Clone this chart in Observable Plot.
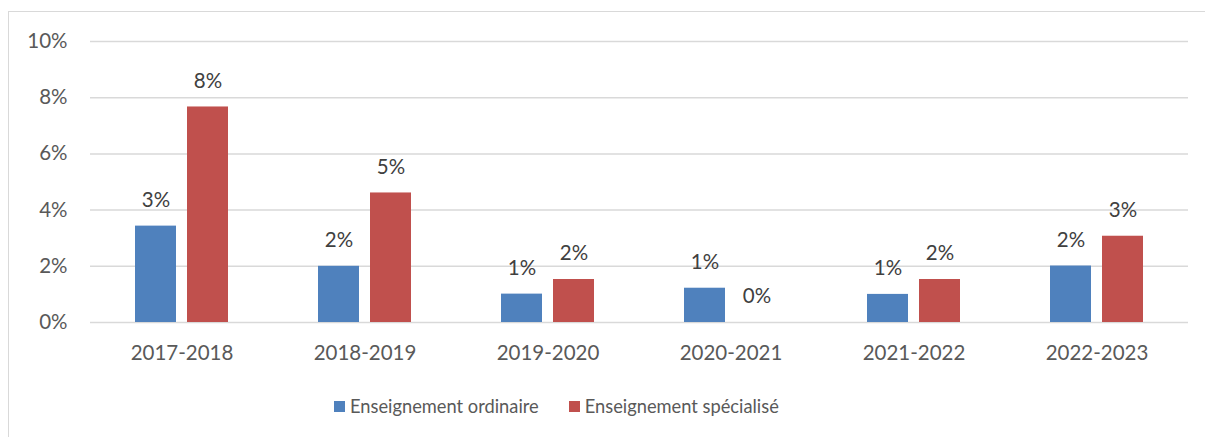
<!DOCTYPE html>
<html>
<head>
<meta charset="utf-8">
<script src="https://cdn.jsdelivr.net/npm/d3@7"></script>
<script src="https://cdn.jsdelivr.net/npm/@observablehq/plot@0.6"></script>
<style>
  html, body { margin: 0; padding: 0; background: #fff; }
  #wrap { position: relative; width: 1205px; height: 437px; overflow: hidden; font-family: Lato, "Open Sans", sans-serif; }
  #frame { position: absolute; left: 8px; top: 11px; width: 1300px; height: 500px; border-top: 1.5px solid #d9d9d9; border-left: 1.5px solid #d9d9d9; }
  #chart { position: absolute; left: 0; top: 0; }
  #legend { position: absolute; left: 334px; top: 395px; display: flex; align-items: center; font-size: 18.3px; color: #595959; white-space: nowrap; }
  .item { display: flex; align-items: center; }
  .sw { width: 11px; height: 11px; margin-right: 5px; }
</style>
</head>
<body>
<div id="wrap">
  <div id="frame"></div>
  <div id="chart"></div>
  <div id="legend"></div>
</div>
<script>
const categories = ["2017-2018", "2018-2019", "2019-2020", "2020-2021", "2021-2022", "2022-2023"];
const series = ["Enseignement ordinaire", "Enseignement spécialisé"];
const ordinaire = [3.43, 2.0, 1.01, 1.22, 1.0, 2.01];
const specialise = [7.67, 4.61, 1.53, 0, 1.53, 3.07];
const yTicks = [0, 2, 4, 6, 8, 10];
const colors = ["#4f81bd", "#c0504d"];

const data = [];
categories.forEach((c, i) => {
  data.push({cat: c, series: series[0], value: ordinaire[i]});
  data.push({cat: c, series: series[1], value: specialise[i]});
});

const chart = Plot.plot({
  width: 1205,
  height: 370,
  marginLeft: 90,
  marginRight: 17,
  marginTop: 41,
  marginBottom: 48,
  style: {fontFamily: "Lato, 'Open Sans', sans-serif", fontSize: "20.5px", color: "#595959", background: "transparent"},
  fx: {domain: categories, padding: 0, label: null, axis: "bottom", tickSize: 0, tickPadding: 23},
  x: {domain: series, paddingInner: 0.219, paddingOuter: 0.855, axis: null},
  y: {domain: [0, 10], ticks: yTicks, tickFormat: d => d + "%", tickSize: 0, tickPadding: 23, label: null},
  color: {domain: series, range: colors},
  marks: [
    Plot.gridY(yTicks, {stroke: "#d9d9d9", strokeOpacity: 1, strokeWidth: 1.5}),
    Plot.barY(data, {fx: "cat", x: "series", y: "value", fill: "series"}),
    Plot.text(data, {fx: "cat", x: "series", y: "value", text: d => Math.round(d.value) + "%", dy: -26, lineAnchor: "middle", fill: "#404040", fontSize: 20.5})
  ]
});
document.getElementById("chart").appendChild(chart);

const legend = document.getElementById("legend");
series.forEach((s, i) => {
  const item = document.createElement("div");
  item.className = "item";
  if (i > 0) item.style.marginLeft = "30px";
  const sw = document.createElement("div");
  sw.className = "sw";
  sw.style.background = colors[i];
  const t = document.createElement("span");
  t.textContent = s;
  item.appendChild(sw);
  item.appendChild(t);
  legend.appendChild(item);
});
</script>
</body>
</html>
